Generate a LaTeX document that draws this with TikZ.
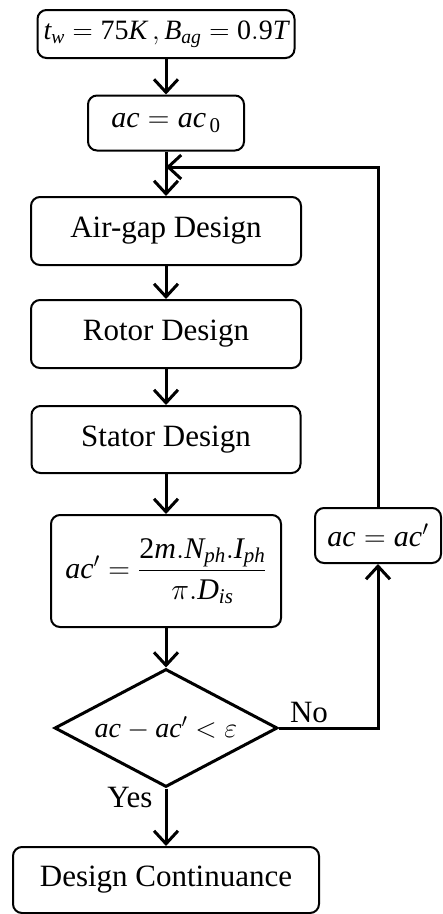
\documentclass[tikz,border=0pt]{standalone}
\usepackage{fix-cm}
\usepackage{amsmath}
\usepackage{fontspec}
\setmainfont{Liberation Serif}
\usetikzlibrary{shapes.geometric,arrows.meta}

\begin{document}
\begin{tikzpicture}[x=1pt,y=-1pt,
    every node/.style={font=\fontsize{31}{37}\selectfont},
    block/.style={draw,line width=2pt,rounded corners=9pt,align=center,inner sep=0pt},
    formula/.style={font=\fontsize{28}{34}\selectfont},
    bigformula/.style={font=\fontsize{30}{36}\selectfont},
    decision/.style={draw,diamond,line width=3pt,inner sep=0pt,aspect=1.89,
        minimum width=223pt,minimum height=118pt},
    flow/.style={line width=3pt,-{Straight Barb[length=13pt,width=24pt,line width=3pt]}}]
    \useasboundingbox (0,0) rectangle (443,914);

    \node[block,formula,minimum width=257pt,minimum height=48pt] (temp) at (166,34)
        {$\mathit{t}_{\mathit{w}} = \mathrm{75}\mathit{K} \,, \mathit{B}_{\mathit{ag}} = \mathrm{0.9}\mathit{T}$};
    \node[block,bigformula,minimum width=156pt,minimum height=55pt] (acinit) at (166,123)
        {$\mathit{ac} = \mathit{ac}_{\,\mathrm{0}}$};
    \node[block,minimum width=270pt,minimum height=68pt] (airgap) at (166,231) {Air-gap Design};
    \node[block,minimum width=270pt,minimum height=68pt] (rotor) at (166,334) {Rotor Design};
    \node[block,minimum width=269pt,minimum height=67pt] (stator) at (166,439.5) {Stator Design};
    \node[block,bigformula,minimum width=230pt,minimum height=112pt] (accalc) at (166,571)
        {$\mathit{ac}' = \dfrac{\mathrm{2}\mathit{m}.\mathit{N}_{\mathit{ph}}.\mathit{I}_{\mathit{ph}}}{\pi.\mathit{D}_{\mathit{is}}}$};
    \node[block,bigformula,minimum width=126pt,minimum height=55pt] (acnew) at (378,535.5)
        {$\mathit{ac} = \mathit{ac}'$};
    \node[decision,formula] (check) at (166,728) {$\mathit{ac} - \mathit{ac}' < \varepsilon$};
    \node[block,minimum width=306pt,minimum height=66pt] (final) at (166,880) {Design Continuance};

    \node (no) at (309,712) {No};
    \node (yes) at (130,797) {Yes};
    \coordinate (join) at (166,167);

    \draw[flow] (temp) -- (acinit);
    \draw[flow] (acinit) -- (airgap);
    \draw[flow] (airgap) -- (rotor);
    \draw[flow] (rotor) -- (stator);
    \draw[flow] (stator) -- (accalc);
    \draw[flow] (accalc) -- (check);
    \draw[flow] (check) -- (final);
    \draw[flow] (check.east) -| (acnew.south);
    \draw[flow] (acnew.north) |- (join);
\end{tikzpicture}
\end{document}
